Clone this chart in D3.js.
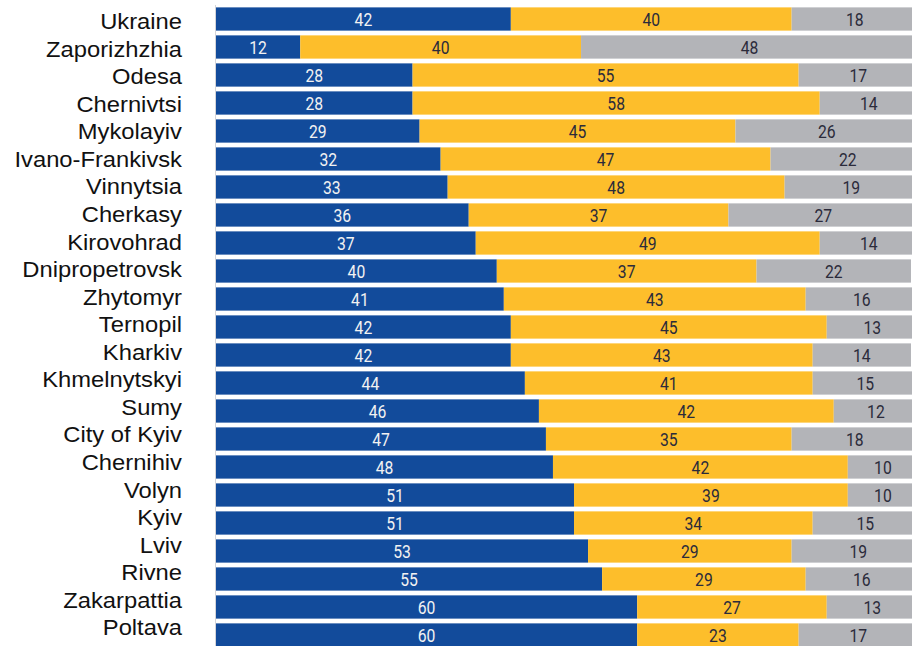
<!DOCTYPE html>
<html>
<head>
<meta charset="utf-8">
<script src="https://cdn.jsdelivr.net/npm/d3@7"></script>
<style>
  body { margin: 0; background: #fff; }
  svg { display: block; }
  .cat { font-family: "Liberation Sans", Arial, sans-serif; font-size: 22px; fill: #111; }
  .val { font-family: Roboto, "DejaVu Sans Condensed", sans-serif; font-size: 18.5px; }
</style>
</head>
<body>
<div id="chart"></div>
<script>
// regions, top to bottom
var regions = ["Ukraine", "Zaporizhzhia", "Odesa", "Chernivtsi", "Mykolayiv",
  "Ivano-Frankivsk", "Vinnytsia", "Cherkasy", "Kirovohrad", "Dnipropetrovsk",
  "Zhytomyr", "Ternopil", "Kharkiv", "Khmelnytskyi", "Sumy", "City of Kyiv",
  "Chernihiv", "Volyn", "Kyiv", "Lviv", "Rivne", "Zakarpattia", "Poltava"];
var blueVals   = [42, 12, 28, 28, 29, 32, 33, 36, 37, 40, 41, 42, 42, 44, 46, 47, 48, 51, 51, 53, 55, 60, 60];
var yellowVals = [40, 40, 55, 58, 45, 47, 48, 37, 49, 37, 43, 45, 43, 41, 42, 35, 42, 39, 34, 29, 29, 27, 23];
var greyVals   = [18, 48, 17, 14, 26, 22, 19, 27, 14, 22, 16, 13, 14, 15, 12, 18, 10, 10, 15, 19, 16, 13, 17];

var segKeys = ["blue", "yellow", "grey"];
var fills = {blue: "#124b9b", yellow: "#fdbe2b", grey: "#b3b4b8"};
var textFill = {blue: "#f2f2f2", yellow: "#2b2b3b", grey: "#2b2b3b"};

var width = 912, height = 646;

var rows = regions.map(function(r, i) {
  return {region: r, blue: blueVals[i], yellow: yellowVals[i], grey: greyVals[i]};
});

var x = d3.scaleLinear().domain([0, 100]).range([216, 918]);
var y = d3.scaleBand().domain(regions).range([5, 649])
  .paddingInner(0.17).paddingOuter(0.085);
// the names sit on a slightly tighter pitch than the bars
var yLabel = d3.scalePoint().domain(regions).range([21.3, 627.5]);

var svg = d3.select("#chart").append("svg")
  .attr("width", width)
  .attr("height", height);

// thin baseline at left of bars
svg.append("line")
  .attr("x1", x(0) - 0.5).attr("x2", x(0) - 0.5)
  .attr("y1", y.range()[0]).attr("y2", height)
  .attr("stroke", "#d4d4d8").attr("stroke-width", 1);

var stacked = d3.stack().keys(segKeys)(rows);

var layers = svg.selectAll("g.layer")
  .data(stacked)
  .join("g")
  .attr("class", "layer");

layers.selectAll("rect")
  .data(function(d) { return d.map(function(s) { s.key = d.key; return s; }); })
  .join("rect")
  .attr("x", function(d) { return x(d[0]); })
  .attr("y", function(d) { return y(d.data.region); })
  .attr("width", function(d) { return x(d[1]) - x(d[0]); })
  .attr("height", y.bandwidth())
  .attr("fill", function(d) { return fills[d.key]; });

// value labels, condensed by a horizontal squeeze
layers.selectAll("text")
  .data(function(d) { return d; })
  .join("text")
  .attr("class", "val")
  .attr("transform", function(d) {
    var cx = (x(d[0]) + x(d[1])) / 2;
    var cy = y(d.data.region) + y.bandwidth() / 2;
    return "translate(" + cx + "," + cy + ") scale(0.85,1)";
  })
  .attr("dy", "0.36em")
  .attr("text-anchor", "middle")
  .attr("fill", function(d) { return textFill[d.key]; })
  .text(function(d) { return d[1] - d[0]; });

// region names, slightly wide
svg.append("g").selectAll("text")
  .data(regions)
  .join("text")
  .attr("class", "cat")
  .attr("transform", function(d) {
    return "translate(182," + yLabel(d) + ") scale(1.08,1)";
  })
  .attr("dy", "0.355em")
  .attr("text-anchor", "end")
  .text(function(d) { return d; });
</script>
</body>
</html>
